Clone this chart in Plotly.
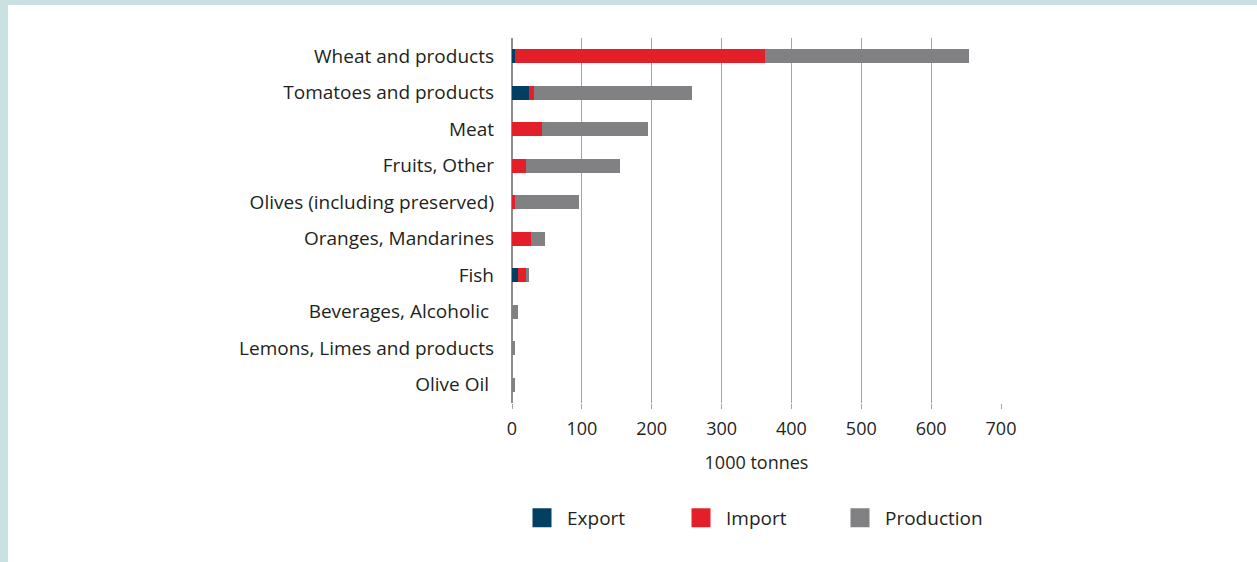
import plotly.graph_objects as go

categories = [
    "Wheat and products",
    "Tomatoes and products",
    "Meat",
    "Fruits, Other",
    "Olives (including preserved)",
    "Oranges, Mandarines",
    "Fish",
    "Beverages, Alcoholic\u00a0",
    "Lemons, Limes and products",
    "Olive Oil\u00a0",
]
export_vals = [4.5, 24, 0, 0, 0, 0, 8.5, 0, 0, 0]
import_vals = [358, 8, 43, 20, 4, 27, 11.5, 0, 0.5, 0.5]
production_vals = [292, 225, 152, 134, 92, 20, 4.5, 8.5, 4.5, 4.5]
x_ticks = [0, 100, 200, 300, 400, 500, 600, 700]

series = [
    ("Export", export_vals, "#023f62"),
    ("Import", import_vals, "#e3202a"),
    ("Production", production_vals, "#818184"),
]

FONT = "Open Sans"
TEXT = "#231f20"

fig = go.Figure()
for name, vals, col in series:
    fig.add_trace(go.Bar(
        y=categories, x=vals, orientation="h", name=name,
        marker=dict(color=col, line=dict(width=0)),
        showlegend=False,
    ))
for name, vals, col in series:
    fig.add_trace(go.Scatter(
        x=[None], y=[None], mode="markers", name=name,
        marker=dict(symbol="square", size=16, color=col, line=dict(color=col, width=3)),
        showlegend=True,
    ))

W, H = 1257, 562
L, R, T, B = 512, 256, 38, 159
pw = W - L - R
ph = H - T - B

def px_to_paper_x(px):
    return (px - L) / pw

def py_to_paper_y(py):
    return (H - B - py) / ph

border = "#c9e1e3"
shapes = [
    dict(type="rect", xref="paper", yref="paper",
         x0=px_to_paper_x(-5), x1=px_to_paper_x(8),
         y0=-2, y1=py_to_paper_y(-5),
         fillcolor=border, line=dict(width=0), layer="above"),
    dict(type="rect", xref="paper", yref="paper",
         x0=px_to_paper_x(-5), x1=px_to_paper_x(W + 5),
         y0=py_to_paper_y(5), y1=py_to_paper_y(-5),
         fillcolor=border, line=dict(width=0), layer="above"),
]

fig.update_layout(
    width=W, height=H,
    margin=dict(l=L, r=R, t=T, b=B, pad=0),
    paper_bgcolor="white", plot_bgcolor="white",
    barmode="stack", bargap=0.62,
    font=dict(family=FONT, size=18, color=TEXT),
    shapes=shapes,
    xaxis=dict(
        range=[0, 700], tickvals=x_ticks, ticktext=[str(v) for v in x_ticks],
        showgrid=True, gridcolor="#a4a4a4", gridwidth=1.2,
        zeroline=True, zerolinecolor="#8e8e8e", zerolinewidth=1.5,
        ticks="outside", ticklen=5, tickcolor="#a4a4a4",
        tickfont=dict(size=18, color=TEXT), ticklabelstandoff=4,
        title=dict(text="1000 tonnes", font=dict(size=18, color=TEXT), standoff=17),
        showline=False, fixedrange=True,
    ),
    yaxis=dict(
        categoryorder="array", categoryarray=categories, autorange="reversed",
        showgrid=False, zeroline=False, showline=False, ticks="",
        tickfont=dict(size=19, color=TEXT), ticklabelstandoff=17,
    ),
    legend=dict(
        orientation="h", xref="container", yref="container",
        x=517 / W, xanchor="left",
        y=1 - 499 / H, yanchor="top",
        traceorder="normal",
        font=dict(size=19, color=TEXT),
        itemwidth=40,
        entrywidth=104, entrywidthmode="pixels",
        itemclick=False, itemdoubleclick=False,
        bgcolor="rgba(0,0,0,0)",
    ),
)

fig.write_html("out.html")
